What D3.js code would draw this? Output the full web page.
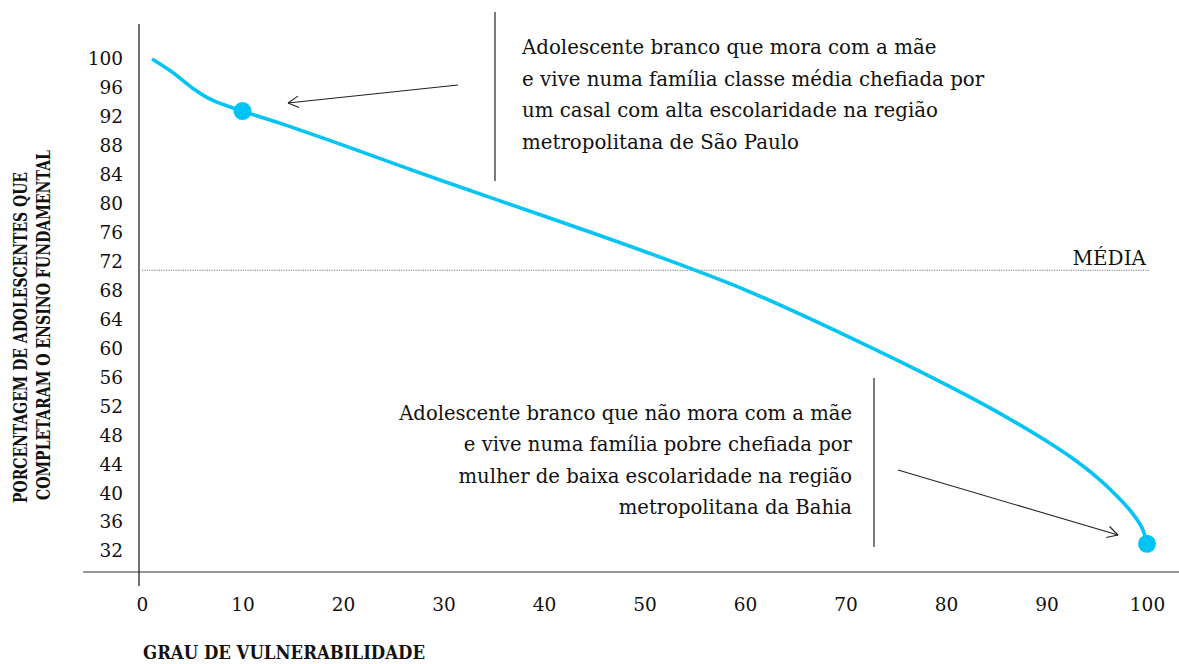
<!DOCTYPE html>
<html>
<head>
<meta charset="utf-8">
<script src="https://cdn.jsdelivr.net/npm/d3@7/dist/d3.min.js"></script>
<style>
  body { margin: 0; background: #fff; }
  svg { display: block; }
  text { font-family: "DejaVu Serif", serif; fill: #111; }
</style>
</head>
<body>
<svg width="1179" height="664"></svg>
<script>
var svg = d3.select("svg"),
    width = +svg.attr("width"),
    height = +svg.attr("height");

// curve
var grau  = [1, 3, 5, 7, 10, 14, 20, 30, 40, 50, 60, 70, 80, 85, 90, 93, 95, 97, 98.5, 99.5, 100];
var pct   = [100, 98.2, 96, 94.3, 92.8, 91.0, 88.1, 83.1, 78.3, 73.4, 68.1, 61.8, 55.0, 51.3, 47.2, 44.4, 42.2, 39.6, 37.3, 35.2, 33];
var yTicks = [100, 96, 92, 88, 84, 80, 76, 72, 68, 64, 60, 56, 52, 48, 44, 40, 36, 32];
var xTicks = [0, 10, 20, 30, 40, 50, 60, 70, 80, 90, 100];
var media = 70.8;
var destaques = [10, 100];  // grau of the two marked adolescents

var textoTopo = ["Adolescente branco que mora com a mãe",
  "e vive numa família classe média chefiada por",
  "um casal com alta escolaridade na região",
  "metropolitana de São Paulo"];
var textoBaixo = ["Adolescente branco que não mora com a mãe",
  "e vive numa família pobre chefiada por",
  "mulher de baixa escolaridade na região",
  "metropolitana da Bahia"];

var data = grau.map(function(g, i) { return {x: g, y: pct[i]}; });

var x = d3.scaleLinear().domain([0, 100]).range([142, 1147]);
var y = d3.scaleLinear().domain([32, 100]).range([551, 59]);

var blue = "#00c4f4";

// axis lines
svg.append("line")
  .attr("x1", 83).attr("x2", width)
  .attr("y1", 572).attr("y2", 572)
  .attr("stroke", "#777").attr("stroke-width", 1.6);
svg.append("line")
  .attr("x1", 139).attr("x2", 139)
  .attr("y1", 24).attr("y2", 586)
  .attr("stroke", "#111").attr("stroke-width", 1.2);

// tick labels
var yAxis = svg.append("g")
  .attr("transform", "translate(139,0)")
  .call(d3.axisLeft(y).tickValues(yTicks).tickSize(0).tickPadding(16));
yAxis.select(".domain").remove();
yAxis.selectAll("text")
  .style("font-family", "DejaVu Serif")
  .style("font-size", "18.5px")
  .attr("fill", "#111");

var xAxis = svg.append("g")
  .attr("transform", "translate(0,598)")
  .call(d3.axisBottom(x).tickValues(xTicks).tickSize(0).tickPadding(0));
xAxis.select(".domain").remove();
xAxis.selectAll("text")
  .style("font-family", "DejaVu Serif")
  .style("font-size", "18.5px")
  .attr("fill", "#111");

// mean line
svg.append("line")
  .attr("x1", x(0)).attr("x2", 1150)
  .attr("y1", y(media)).attr("y2", y(media))
  .attr("stroke", "#777").attr("stroke-width", 1)
  .attr("stroke-dasharray", "1.2,1.2");
svg.append("text")
  .attr("x", 1146).attr("y", y(media) - 5)
  .attr("text-anchor", "end")
  .style("font-size", "20px")
  .text("MÉDIA");

// curve
var line = d3.line()
  .x(function(d) { return x(d.x); })
  .y(function(d) { return y(d.y); })
  .curve(d3.curveCatmullRom.alpha(0.5));

svg.append("path")
  .datum(data)
  .attr("fill", "none")
  .attr("stroke", blue)
  .attr("stroke-width", 3.6)
  .attr("d", line);

svg.selectAll(".dot")
  .data(data.filter(function(d) { return destaques.indexOf(d.x) >= 0; }))
  .enter().append("circle")
  .attr("class", "dot")
  .attr("cx", function(d) { return x(d.x); })
  .attr("cy", function(d) { return y(d.y); })
  .attr("r", 9)
  .attr("fill", blue);

// separators
svg.append("line").attr("x1", 495).attr("x2", 495).attr("y1", 12).attr("y2", 181)
  .attr("stroke", "#222").attr("stroke-width", 1.2);
svg.append("line").attr("x1", 874).attr("x2", 874).attr("y1", 378).attr("y2", 547)
  .attr("stroke", "#222").attr("stroke-width", 1.2);

// annotations
svg.append("g").selectAll("text")
  .data(textoTopo)
  .enter().append("text")
  .attr("x", 522)
  .attr("y", function(d, i) { return 54 + i * 31.7; })
  .style("font-size", "19.8px")
  .text(function(d) { return d; });

svg.append("g").selectAll("text")
  .data(textoBaixo)
  .enter().append("text")
  .attr("x", 852)
  .attr("y", function(d, i) { return 420 + i * 31.3; })
  .attr("text-anchor", "end")
  .style("font-size", "19.6px")
  .text(function(d) { return d; });

// arrows
function arrow(x1, y1, x2, y2) {
  var a = Math.atan2(y2 - y1, x2 - x1), L = 12, s = 0.5;
  svg.append("line").attr("x1", x1).attr("y1", y1).attr("x2", x2).attr("y2", y2)
    .attr("stroke", "#222").attr("stroke-width", 1.1);
  [a + Math.PI - s, a + Math.PI + s].forEach(function(b) {
    svg.append("line").attr("x1", x2).attr("y1", y2)
      .attr("x2", x2 + L * Math.cos(b)).attr("y2", y2 + L * Math.sin(b))
      .attr("stroke", "#222").attr("stroke-width", 1.1);
  });
}
arrow(458, 85, 288, 103);
arrow(898, 470, 1118, 535);

// axis titles
svg.append("text")
  .attr("x", 143).attr("y", 659)
  .attr("textLength", 282).attr("lengthAdjust", "spacingAndGlyphs")
  .style("font-size", "18.5px").style("font-weight", "bold")
  .text("GRAU DE VULNERABILIDADE");

svg.append("text")
  .attr("transform", "translate(27,503) rotate(-90)")
  .attr("textLength", 331).attr("lengthAdjust", "spacingAndGlyphs")
  .style("font-size", "18.5px").style("font-weight", "bold")
  .text("PORCENTAGEM DE ADOLESCENTES QUE");
svg.append("text")
  .attr("transform", "translate(50,500) rotate(-90)")
  .attr("textLength", 350).attr("lengthAdjust", "spacingAndGlyphs")
  .style("font-size", "18.5px").style("font-weight", "bold")
  .text("COMPLETARAM O ENSINO FUNDAMENTAL");
</script>
</body>
</html>
